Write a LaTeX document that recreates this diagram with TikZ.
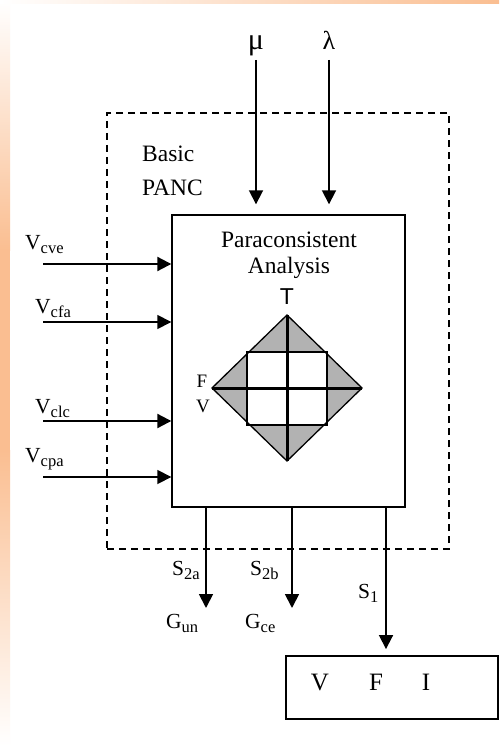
\documentclass[tikz,border=0pt]{standalone}
\usepackage{fontspec}
\setmainfont{Liberation Serif}
\setsansfont{Liberation Sans}
\usetikzlibrary{arrows.meta}
\definecolor{peach}{RGB}{250,190,145}
\definecolor{diagray}{RGB}{178,178,178}
\newcommand\lblsub[2]{#1\raisebox{-4.5pt}{\fontsize{16.5}{16}\selectfont #2}}
\begin{document}
\begin{tikzpicture}[x=1pt,y=-1pt,
  arr/.style={line width=1.8pt,-{Triangle[width=14pt,length=14pt]}},
  lab/.style={inner sep=0pt,anchor=base west,font=\fontsize{21.5}{24}\selectfont},
  ttl/.style={inner sep=0pt,anchor=base,font=\fontsize{23.5}{26}\selectfont},
  boxst/.style={draw,line width=1.4pt,inner sep=0pt}]
\useasboundingbox (0,0) rectangle (499,746);
\fill[white] (0,0) rectangle (499,746);
% orange edges
\shade[top color=white,bottom color=peach] (0,0) rectangle (10,250);
\fill[peach] (0,250) rectangle (10,450);
\shade[top color=peach,bottom color=white] (0,450) rectangle (10,746);
\shade[left color=white,right color=peach] (0,0) rectangle (499,4);

% boxes
\node[draw,dash pattern=on 7pt off 5pt,line width=2.5pt,minimum width=342pt,minimum height=436pt,inner sep=0pt] (panc) at (278,331) {};
\node[boxst,minimum width=233pt,minimum height=292pt] (pa) at (288.5,361) {};
\node[boxst,line width=1.9pt,minimum width=212pt,minimum height=63pt] (vfi) at (392,687.5) {};

% titles
\node[lab,font=\fontsize{23.5}{26}\selectfont] (basic) at (142,162) {Basic};
\node[lab,font=\fontsize{23.5}{26}\selectfont] (pancl) at (142,195) {PANC};
\node[ttl] (para) at (289,247) {Paraconsistent};
\node[ttl] (anal) at (289,273) {Analysis};

% lattice diagram
\coordinate (dt) at (287,315);
\coordinate (db) at (287,461);
\coordinate (dl) at (212,388);
\coordinate (dr) at (362,388);
\fill[diagray] (dt) -- (dr) -- (db) -- (dl) -- cycle;
\fill[white] (247,352) rectangle (327,425);
\draw[line width=1.3pt] (dt) -- (dr) -- (db) -- (dl) -- cycle;
\draw[line width=1.3pt] (247,352) rectangle (327,425);
\draw[line width=3pt] (dt) -- (db);
\draw[line width=3pt] (dl) -- (dr);
\node[inner sep=0pt,anchor=base,font=\sffamily\fontsize{23}{26}\selectfont] (tl) at (287,304) {T};
\node[inner sep=0pt,anchor=base,font=\fontsize{19}{20}\selectfont] (fl) at (202,387) {F};
\node[inner sep=0pt,anchor=base,font=\fontsize{19}{20}\selectfont] (vl) at (203,412) {V};

% top inputs
\node[inner sep=0pt,anchor=base,font=\fontsize{30}{32}\selectfont] (mu) at (256,50) {μ};
\node[inner sep=0pt,anchor=base,font=\fontsize{26}{28}\selectfont] (lam) at (329,50) {λ};
\coordinate (mus) at (256,60);
\coordinate (lams) at (329,60);
\draw[arr,shorten >=10pt] (mus) -- (mus |- pa.north);
\draw[arr,shorten >=10pt] (lams) -- (lams |- pa.north);

% left inputs
\node[lab] (vcve) at (25,249) {\lblsub{V}{cve}};
\node[lab] (vcfa) at (35,313) {\lblsub{V}{cfa}};
\node[lab] (vclc) at (35,413) {\lblsub{V}{clc}};
\node[lab] (vcpa) at (25,462) {\lblsub{V}{cpa}};
\coordinate (icve) at (43,264);
\coordinate (icfa) at (43,322);
\coordinate (iclc) at (43,421);
\coordinate (icpa) at (43,477);
\draw[arr,line width=2.1pt] (icve) -- (icve -| pa.west);
\draw[arr,line width=1.5pt] (icfa) -- (icfa -| pa.west);
\draw[arr,line width=2.1pt] (iclc) -- (iclc -| pa.west);
\draw[arr,line width=1.7pt] (icpa) -- (icpa -| pa.west);

% outputs
\coordinate (o2a) at (206,608);
\coordinate (o2b) at (292,608);
\coordinate (o1) at (386,650);
\draw[arr] (o2a |- pa.south) -- (o2a);
\draw[arr] (o2b |- pa.south) -- (o2b);
\draw[arr,shorten >=6pt] (o1 |- pa.south) -- (o1 |- vfi.north);
\node[lab] (s2a) at (172,575) {\lblsub{S}{2a}};
\node[lab] (s2b) at (250,575) {\lblsub{S}{2b}};
\node[lab] (s1) at (358,598) {\lblsub{S}{1}};
\node[lab] (gun) at (166,628) {\lblsub{G}{un}};
\node[lab] (gce) at (245,628) {\lblsub{G}{ce}};

% VFI
\node[inner sep=0pt,anchor=base,font=\fontsize{25}{28}\selectfont] (vv) at (320,690) {V};
\node[inner sep=0pt,anchor=base,font=\fontsize{25}{28}\selectfont] (ff) at (376,690) {F};
\node[inner sep=0pt,anchor=base,font=\fontsize{25}{28}\selectfont] (ii) at (426,690) {I};
\end{tikzpicture}
\end{document}
